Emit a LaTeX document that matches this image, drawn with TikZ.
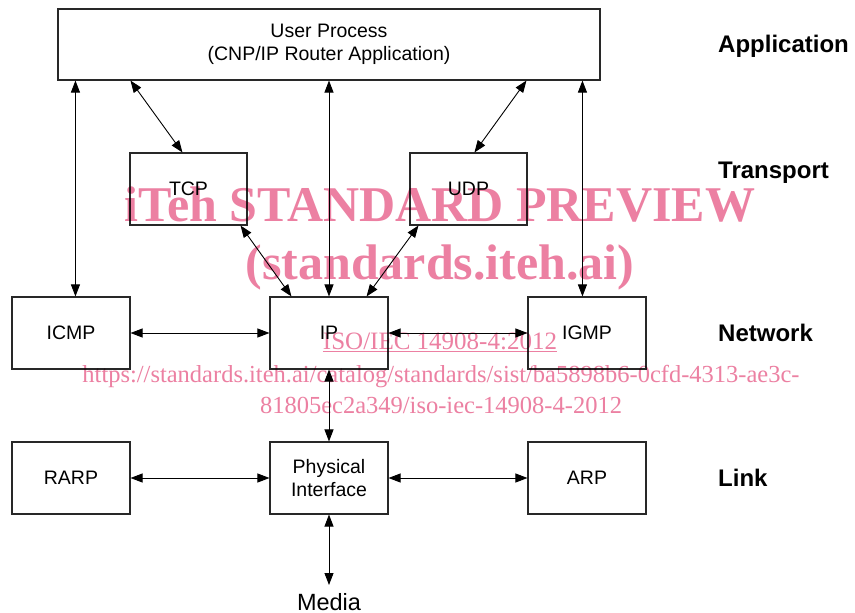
\documentclass[tikz,border=0pt]{standalone}
\usepackage{fontspec}
\setmainfont{Liberation Sans}
\newfontfamily\wmfont{Liberation Serif}
\usetikzlibrary{arrows.meta,calc}
\definecolor{wmpink}{RGB}{236,128,162}
\definecolor{boxline}{RGB}{40,40,40}
\tikzset{
  layerbox/.style={draw=boxline, line width=1.1pt, minimum width=118pt, minimum height=72pt, inner sep=0pt, align=center,
    font=\fontsize{19.5}{23}\selectfont},
  layerlabel/.style={anchor=base west, inner sep=0pt, font=\fontsize{24}{28}\selectfont\bfseries},
  link/.style={line width=0.9pt, {Triangle[length=12pt,width=9pt]}-{Triangle[length=12pt,width=9pt]}},
  wmark/.style={text=wmpink, inner sep=0pt, anchor=base}
}
\begin{document}
\begin{tikzpicture}[x=1pt,y=-1pt]
\useasboundingbox[fill=white] (0,0) rectangle (855,613);

% boxes
\node[layerbox, minimum width=542pt, minimum height=71pt] (user) at (329,44.5) {User Process\\(CNP/IP Router Application)};
\node[layerbox, minimum width=117pt] (tcp) at (188.5,189) {TCP};
\node[layerbox, minimum width=117pt] (udp) at (468.5,189) {UDP};
\node[layerbox] (icmp) at (71,333) {ICMP};
\node[layerbox] (ip) at (329,333) {IP};
\node[layerbox] (igmp) at (587,333) {IGMP};
\node[layerbox] (rarp) at (71,478) {RARP};
\node[layerbox] (phys) at (329,478) {Physical\\Interface};
\node[layerbox] (arp) at (587,478) {ARP};
\node[anchor=base, inner sep=0pt, font=\fontsize{23.5}{27}\selectfont] (media) at (329,610) {Media};
\coordinate (mediatop) at (329,585);

% layer labels
\node[layerlabel] (lapp) at (718,52) {Application};
\node[layerlabel] (ltra) at (718,178) {Transport};
\node[layerlabel] (lnet) at (718,341) {Network};
\node[layerlabel] (llin) at (718,486) {Link};

% connectors
\draw[link] ($(user.south west)+(18,0)$) -- ($(icmp.north west)+(64,0)$);
\draw[link] (user.south) -- (ip.north);
\draw[link] ($(user.south west)+(525,0)$) -- ($(igmp.north west)+(55,0)$);
\draw[link] ($(user.south west)+(73,0)$) -- ($(tcp.north west)+(53,0)$);
\draw[link] ($(user.south west)+(469,0)$) -- ($(udp.north west)+(65,0)$);
\draw[link] ($(tcp.south east)+(-7,0)$) -- ($(ip.north west)+(22,0)$);
\draw[link] ($(udp.south west)+(9,0)$) -- ($(ip.north east)+(-22,0)$);
\draw[link] (icmp.east) -- (ip.west);
\draw[link] (ip.east) -- (igmp.west);
\draw[link] (ip.south) -- (phys.north);
\draw[link] (rarp.east) -- (phys.west);
\draw[link] (phys.east) -- (arp.west);
\draw[link] (phys.south) -- (mediatop);

% watermark
\begin{scope}[blend mode=multiply]
\node[wmark, font=\wmfont\fontsize{50}{56}\selectfont\bfseries] (wm1) at (440,221) {iTeh STANDARD PREVIEW};
\node[wmark, font=\wmfont\fontsize{50}{56}\selectfont\bfseries] (wm2) at (440,279) {(standards.iteh.ai)};
\node[wmark, font=\wmfont\fontsize{25}{28}\selectfont] (wm3) at (440,349) {\underline{ISO/IEC 14908-4:2012}};
\node[wmark, font=\wmfont\fontsize{24.5}{28}\selectfont] (wm4) at (441,382) {https://standards.iteh.ai/catalog/standards/sist/ba5898b6-0cfd-4313-ae3c-};
\node[wmark, font=\wmfont\fontsize{24.5}{28}\selectfont] (wm5) at (441,413) {81805ec2a349/iso-iec-14908-4-2012};
\end{scope}
\end{tikzpicture}
\end{document}
